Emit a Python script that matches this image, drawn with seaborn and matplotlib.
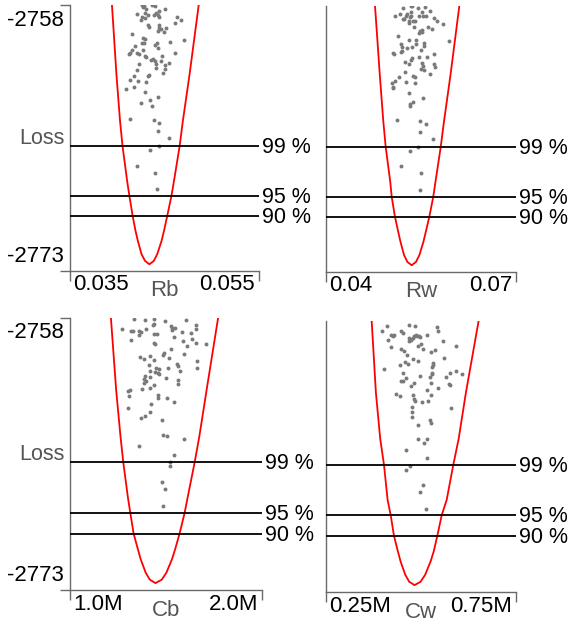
import matplotlib
matplotlib.use("Agg")
import matplotlib.pyplot as plt
import matplotlib.transforms as mtransforms
import seaborn as sns

# ---------------- data ----------------
y_range = [-2773, -2758]
y_tick_labels = ["-2758", "-2773"]
levels = [-2765.96, -2768.75, -2769.89]
level_labels = ["99 %", "95 %", "90 %"]

curve_loss = [-2758.0, -2761.96, -2764.51, -2765.96, -2767.90, -2768.75, -2769.89, -2770.73,
              -2771.30, -2772.04, -2772.43, -2772.62,
              -2772.43, -2772.04, -2771.30, -2770.73, -2769.89, -2768.75, -2767.90, -2765.96,
              -2764.51, -2761.96, -2758.0]

rb_curve_x = [0.03944, 0.03992, 0.04029, 0.04056, 0.04104, 0.04128, 0.04163, 0.04193, 0.04218, 0.04256, 0.04294,
              0.04340,
              0.04387, 0.04424, 0.04469, 0.04495, 0.04529, 0.04574, 0.04601, 0.04660, 0.04695, 0.04764, 0.04862]
rw_curve_x = [0.04774, 0.04851, 0.04905, 0.04943, 0.05014, 0.05037, 0.05089, 0.05140, 0.05176, 0.05232, 0.05285,
              0.05353,
              0.05421, 0.05475, 0.05538, 0.05576, 0.05631, 0.05694, 0.05729, 0.05811, 0.05863, 0.05963, 0.06105]
cb_curve_x = [1213100, 1240300, 1262800, 1277500, 1301600, 1314200, 1331400, 1353000, 1368100, 1394000, 1415900,
              1445100,
              1477800, 1502300, 1531300, 1548200, 1570700, 1596900, 1612600, 1649300, 1673900, 1711600, 1771300]
cw_curve_x = [370200, 381300, 392600, 402600, 412100, 420300, 428900, 438900, 446100, 458500, 468900,
              482900,
              499000, 511100, 525400, 533800, 542900, 554500, 567600, 585000, 599200, 618200, 651600]

rb_x = [0.04262, 0.04280, 0.04270, 0.04369, 0.04404, 0.04500, 0.04440, 0.04411, 0.04305, 0.04206,
        0.04291, 0.04326, 0.04259, 0.04294, 0.04252, 0.04387, 0.04429, 0.04447, 0.04635, 0.04677,
        0.04614, 0.04326, 0.04340, 0.04447, 0.04440, 0.04465, 0.04518, 0.04493, 0.04429, 0.04160,
        0.04273, 0.04298, 0.04262, 0.04280, 0.04418, 0.04401, 0.04429, 0.04553, 0.04709, 0.04192,
        0.04153, 0.04135, 0.04128, 0.04213, 0.04227, 0.04270, 0.04298, 0.04309, 0.04362, 0.04401,
        0.04472, 0.04468, 0.04543, 0.04507, 0.04500, 0.04408, 0.04411, 0.04383, 0.04614, 0.04231,
        0.04213, 0.04337, 0.04330, 0.04482, 0.04177, 0.04135, 0.04174, 0.04220, 0.04309, 0.04096,
        0.04291, 0.04344, 0.04248, 0.04372, 0.04436, 0.04131, 0.04394, 0.04447, 0.04426, 0.04543,
        0.04443, 0.04348, 0.04206, 0.04404, 0.04418]
rb_loss = [-2758.00, -2758.04, -2758.13, -2758.00, -2758.06, -2758.25, -2758.32, -2758.47, -2758.25, -2758.53,
           -2758.47, -2758.57, -2758.66, -2758.76, -2758.85, -2758.57, -2758.57, -2758.66, -2758.66, -2758.85,
           -2759.04, -2759.13, -2759.23, -2759.13, -2759.32, -2759.38, -2759.32, -2759.55, -2759.45, -2759.66,
           -2759.85, -2759.94, -2760.13, -2760.17, -2760.17, -2760.23, -2760.45, -2760.08, -2760.00, -2760.30,
           -2760.55, -2760.68, -2760.74, -2760.70, -2760.74, -2760.55, -2760.89, -2760.96, -2761.11, -2761.17,
           -2760.89, -2761.17, -2761.25, -2761.40, -2761.59, -2761.30, -2761.55, -2761.02, -2760.70, -2761.34,
           -2761.68, -2761.92, -2761.98, -2761.85, -2762.02, -2762.21, -2762.60, -2762.28, -2762.36, -2762.72,
           -2762.91, -2763.38, -2763.51, -2763.68, -2763.19, -2764.43, -2764.47, -2764.64, -2765.08, -2765.51,
           -2765.94, -2766.17, -2767.06, -2767.45, -2768.38]

rw_x = [0.05337, 0.05363, 0.05221, 0.05458, 0.05563, 0.05521, 0.05647, 0.05337, 0.05284, 0.05168,
        0.05095, 0.05263, 0.05326, 0.05347, 0.05468, 0.05537, 0.05584, 0.05711, 0.05747, 0.05853,
        0.05211, 0.05237, 0.05316, 0.05374, 0.05305, 0.05400, 0.05395, 0.05605, 0.05674, 0.05511,
        0.05489, 0.05521, 0.05474, 0.05132, 0.05316, 0.05416, 0.05942, 0.05179, 0.05195, 0.05284,
        0.05421, 0.05542, 0.05547, 0.05358, 0.05053, 0.05068, 0.05184, 0.05200, 0.05505, 0.05711,
        0.05463, 0.05589, 0.05353, 0.05337, 0.05242, 0.05311, 0.05516, 0.05705, 0.05716, 0.05532,
        0.05500, 0.05547, 0.05647, 0.05247, 0.05153, 0.05089, 0.05047, 0.05053, 0.05063, 0.05379,
        0.05405, 0.05268, 0.05405, 0.05311, 0.05526, 0.05379, 0.05326, 0.05321, 0.05126, 0.05479,
        0.05574, 0.05484, 0.05684, 0.05447, 0.05332, 0.05184, 0.05495, 0.05479]
rw_loss = [-2758.00, -2758.00, -2758.09, -2758.09, -2758.08, -2758.32, -2758.26, -2758.32, -2758.45, -2758.45,
           -2758.55, -2758.58, -2758.60, -2758.55, -2758.56, -2758.56, -2758.55, -2758.66, -2758.85, -2759.03,
           -2758.72, -2758.73, -2758.83, -2758.83, -2758.94, -2758.87, -2759.17, -2759.17, -2759.32, -2759.35,
           -2759.41, -2759.49, -2759.54, -2759.69, -2759.92, -2759.92, -2759.99, -2760.12, -2760.29, -2760.35,
           -2760.16, -2760.07, -2760.24, -2760.29, -2760.63, -2760.73, -2760.58, -2760.52, -2760.48, -2760.71,
           -2760.90, -2760.90, -2760.95, -2761.05, -2761.18, -2761.29, -2761.20, -2761.27, -2761.46, -2761.40,
           -2761.57, -2761.61, -2761.84, -2761.70, -2762.02, -2762.21, -2762.36, -2762.64, -2762.59, -2761.95,
           -2761.99, -2762.29, -2762.34, -2762.93, -2763.21, -2763.40, -2763.51, -2763.64, -2764.43, -2764.47,
           -2764.67, -2765.09, -2765.52, -2765.93, -2766.18, -2767.02, -2767.44, -2768.38]

cb_x = [1335100, 1390950, 1436300, 1439800, 1432800, 1492200, 1605600, 1654500, 1270500, 1317600,
        1326400, 1357800, 1370000, 1396200, 1357800, 1436300, 1453800, 1523600, 1530600, 1544500,
        1528800, 1581200, 1631800, 1658000, 1539300, 1588200, 1637000, 1654500, 1710300, 1315900,
        1436300, 1443300, 1607400, 1525300, 1488700, 1486900, 1595100, 1513100, 1364800, 1384000,
        1417100, 1439800, 1410100, 1556800, 1562000, 1570700, 1663200, 1663200, 1450300, 1462500,
        1511400, 1418900, 1441600, 1457300, 1466000, 1390950, 1384000, 1385700, 1396200, 1417100,
        1436300, 1499200, 1563700, 1563700, 1375200, 1418900, 1300200, 1312400, 1307200, 1457300,
        1459000, 1504400, 1541000, 1422400, 1303700, 1370000, 1389200, 1415400, 1480000, 1483400,
        1504400, 1593400, 1357800, 1541000, 1521800, 1521800, 1478200, 1493900, 1486900]
cb_loss = [-2758.04, -2758.13, -2758.07, -2758.31, -2758.37, -2758.17, -2758.09, -2758.37, -2758.59, -2758.72,
           -2758.72, -2758.72, -2758.77, -2758.59, -2758.92, -2758.90, -2758.90, -2758.46, -2758.53, -2758.53,
           -2758.64, -2758.77, -2758.83, -2758.63, -2759.07, -2759.27, -2759.14, -2759.36, -2759.45, -2759.23,
           -2759.36, -2759.42, -2759.56, -2759.73, -2759.91, -2760.02, -2759.97, -2760.21, -2760.15, -2760.24,
           -2760.10, -2760.33, -2760.57, -2760.52, -2760.67, -2760.92, -2760.39, -2760.76, -2760.74, -2760.79,
           -2760.74, -2760.94, -2760.98, -2761.03, -2761.07, -2761.22, -2761.35, -2761.58, -2761.47, -2761.25,
           -2761.71, -2761.29, -2761.44, -2761.62, -2761.93, -2761.86, -2762.03, -2761.99, -2762.30, -2762.26,
           -2762.39, -2762.41, -2762.63, -2762.72, -2762.94, -2763.51, -2763.40, -2763.18, -2763.64, -2764.47,
           -2764.51, -2764.65, -2765.08, -2765.54, -2765.94, -2766.18, -2767.04, -2767.45, -2768.37]

cw_x = [410500, 469300, 484200, 398200, 447400, 451800, 542100, 543900, 421100, 425400,
        429800, 414000, 467500, 471100, 473700, 478100, 481600, 486800, 489500, 495600,
        497400, 516700, 557000, 469300, 499100, 491200, 504400, 526300, 537700, 593000,
        421100, 448200, 455300, 464000, 560500, 479000, 491200, 458800, 445600, 466700,
        532500, 530700, 528100, 402600, 452600, 529800, 528100, 524600, 497400, 576300,
        593000, 607000, 565800, 461400, 446500, 451800, 480700, 472800, 525400, 573700,
        577200, 515800, 543900, 434200, 443900, 479800, 482500, 483300, 503500, 517500,
        525400, 578900, 475400, 477200, 477200, 523700, 527200, 491200, 493000, 515800,
        508800, 460500, 515800, 471100, 460500, 505300, 496500, 512300]
cw_loss = [-2758.26, -2758.24, -2758.29, -2758.57, -2758.53, -2758.66, -2758.35, -2758.53, -2758.79, -2758.85,
           -2758.79, -2759.07, -2758.94, -2758.99, -2759.07, -2758.94, -2758.85, -2758.75, -2758.85, -2758.85,
           -2758.88, -2758.75, -2759.12, -2759.12, -2759.25, -2759.40, -2759.54, -2759.73, -2759.62, -2759.40,
           -2759.45, -2759.54, -2759.64, -2759.89, -2760.06, -2760.13, -2760.19, -2760.26, -2760.41, -2760.37,
           -2760.32, -2760.41, -2760.56, -2760.65, -2760.87, -2760.87, -2760.96, -2761.09, -2761.05, -2760.89,
           -2760.74, -2760.91, -2761.11, -2761.18, -2761.33, -2761.33, -2761.42, -2761.60, -2761.42, -2761.51,
           -2761.57, -2761.84, -2761.73, -2762.03, -2762.16, -2762.12, -2762.30, -2762.43, -2762.49, -2762.41,
           -2762.08, -2762.84, -2762.74, -2763.04, -2763.29, -2763.50, -2763.63, -2763.75, -2764.54, -2764.54,
           -2764.73, -2765.15, -2765.57, -2766.03, -2766.24, -2767.08, -2767.45, -2768.40]

param_names = ["Rb", "Rw", "Cb", "Cw"]
x_ranges = [[0.035, 0.055], [0.04, 0.07], [1.0e6, 2.0e6], [0.25e6, 0.75e6]]
x_tick_labels = [["0.035", "0.055"], ["0.04", "0.07"], ["1.0M", "2.0M"], ["0.25M", "0.75M"]]

# ---------------- style ----------------
sns.set_style("ticks")
plt.rcParams["font.family"] = ["Liberation Sans", "DejaVu Sans"]

W, H = 571, 621
fig = plt.figure(figsize=(W / 100, H / 100), dpi=100)

SPINE = "#6a6a6a"
LABEL_GRAY = "#555555"
TICK_FS = 16

# pixel boxes (x0, x1, y0, y1) for the four panels
boxes = [(70, 259, 5, 271), (326, 516, 6, 272), (70, 262, 318, 590), (326, 516, 321, 592)]
is_left = [True, False, True, False]
points = [(rb_x, rb_loss), (rw_x, rw_loss), (cb_x, cb_loss), (cw_x, cw_loss)]
curves = [rb_curve_x, rw_curve_x, cb_curve_x, cw_curve_x]


def put(ax, xf, yf, dx, dy, s, trans=None, **kw):
    base = trans if trans is not None else ax.transAxes
    t = base + mtransforms.ScaledTranslation(dx / 100, dy / 100, fig.dpi_scale_trans)
    ax.text(xf, yf, s, transform=t, clip_on=False, **kw)


for i in range(4):
    x0, x1, y0, y1 = boxes[i]
    ax = fig.add_axes([x0 / W, 1 - y1 / H, (x1 - x0) / W, (y1 - y0) / H])
    ax.set_facecolor("none")
    px, py = points[i]
    sns.scatterplot(x=px, y=py, color="#7a7a7a", s=8, linewidth=0, ax=ax, zorder=2)
    sns.lineplot(x=curves[i], y=curve_loss, sort=False, estimator=None, color="#ff0000",
                 lw=1.3, ax=ax, zorder=3)
    for lv in levels:
        ax.axhline(lv, color="black", lw=1.3, zorder=4)
    ax.set_xlim(*x_ranges[i])
    ax.set_ylim(*y_range)
    sns.despine(ax=ax)
    for sp in ("left", "bottom"):
        ax.spines[sp].set_color(SPINE)
        ax.spines[sp].set_linewidth(1.0)
    ax.set_xlabel("")
    ax.set_ylabel("")
    ax.set_xticks(x_ranges[i])
    ax.set_xticklabels(["", ""])
    ax.tick_params(axis="x", length=7, width=1.0, color=SPINE, direction="out")
    if is_left[i]:
        ax.set_yticks(y_range)
        ax.set_yticklabels(["", ""])
        ax.tick_params(axis="y", length=7, width=1.0, color=SPINE, direction="out")
        put(ax, 0, 1, -6, -20.5, y_tick_labels[0], ha="right", va="baseline",
            fontsize=TICK_FS, color="black")
        put(ax, 0, 0, -6, 9, y_tick_labels[1], ha="right", va="baseline",
            fontsize=TICK_FS, color="black")
        put(ax, 0, 0.5, -5, -6, "Loss", ha="right", va="baseline",
            fontsize=15.5, color=LABEL_GRAY)
    else:
        ax.set_yticks([])
    # x tick labels at the axis ends
    put(ax, 0, 0, 3, -19.5, x_tick_labels[i][0], ha="left", va="baseline",
        fontsize=TICK_FS, color="black")
    put(ax, 1, 0, -4, -19.5, x_tick_labels[i][1], ha="right", va="baseline",
        fontsize=TICK_FS, color="black")
    put(ax, 0.5, 0, 0, -25.5, param_names[i], ha="center", va="baseline",
        fontsize=16, color=LABEL_GRAY)
    # level labels
    ytr = ax.get_yaxis_transform()
    for lv, lab in zip(levels, level_labels):
        put(ax, 1, lv, 3, -7, lab, trans=ytr, ha="left", va="baseline",
            fontsize=15.5, color="black")

fig.savefig("out.png", dpi=100)
